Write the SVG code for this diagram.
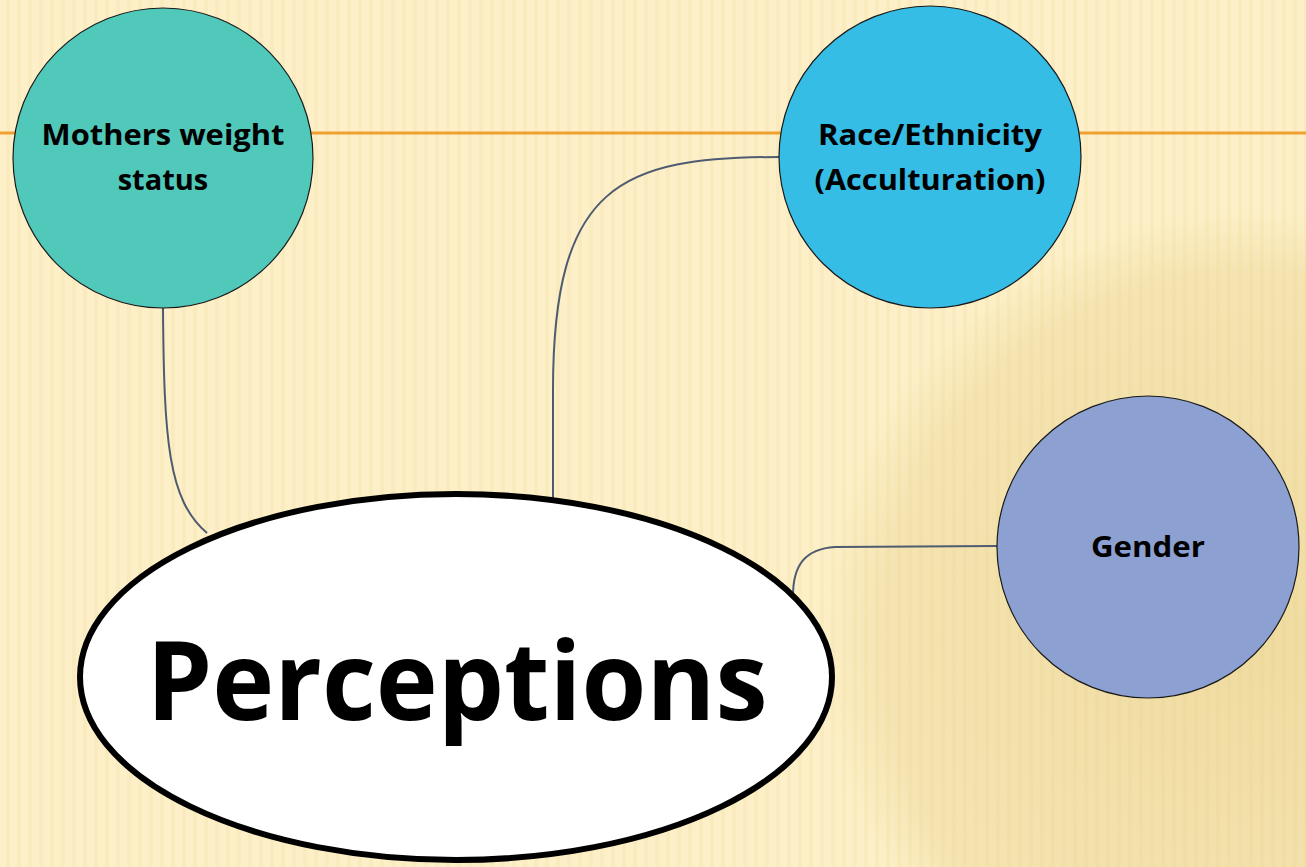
<svg xmlns="http://www.w3.org/2000/svg" width="1306" height="867" viewBox="0 0 1306 867">
  <defs>
    <pattern id="stripes" x="0" y="0" width="11" height="867" patternUnits="userSpaceOnUse">
      <rect x="0" y="0" width="11" height="867" fill="#FDF0C8"/>
      <rect x="6" y="0" width="4" height="867" fill="#F6E3AE" opacity="0.4"/>
    </pattern>
    <radialGradient id="shade" cx="1250" cy="640" r="430" gradientUnits="userSpaceOnUse">
      <stop offset="0" stop-color="#E2C77A" stop-opacity="0.5"/>
      <stop offset="0.85" stop-color="#E6CD86" stop-opacity="0.35"/>
      <stop offset="1" stop-color="#E6CD86" stop-opacity="0"/>
    </radialGradient>
    <style>
      .node { stroke: #1a1a1a; stroke-width: 1.2; }
      .lbl { font-family: "Open Sans", "Liberation Sans", sans-serif; font-weight: bold; fill: #000; text-anchor: middle; }
      .conn { fill: none; stroke: #4F5B70; stroke-width: 2; }
    </style>
  </defs>

  <rect x="0" y="0" width="1306" height="867" fill="url(#stripes)"/>
  <rect x="0" y="0" width="1306" height="867" fill="url(#shade)"/>
  <line x1="0" y1="133" x2="1306" y2="133" stroke="#F0A030" stroke-width="3"/>

  <g id="connectors">
    <path class="conn" d="M163,308 C164,440 168,500 207,533"/>
    <path class="conn" d="M780,157 C620,157 553,185 553,390 L553,508"/>
    <path class="conn" d="M997,546 L835,547 C805,549 793,565 793,596"/>
  </g>

  <g id="node-mothers">
    <circle class="node" cx="163" cy="158" r="150" fill="#50C8BA"/>
    <text class="lbl" x="163" y="145" font-size="29" textLength="243" lengthAdjust="spacingAndGlyphs">Mothers weight</text>
    <text class="lbl" x="163" y="190" font-size="29">status</text>
  </g>

  <g id="node-race">
    <circle class="node" cx="930" cy="157" r="151" fill="#35BDE6"/>
    <text class="lbl" x="930" y="145" font-size="29" textLength="224" lengthAdjust="spacingAndGlyphs">Race/Ethnicity</text>
    <text class="lbl" x="930" y="190" font-size="29" textLength="231" lengthAdjust="spacingAndGlyphs">(Acculturation)</text>
  </g>

  <g id="node-gender">
    <circle class="node" cx="1148" cy="547" r="151" fill="#8CA1D1"/>
    <text class="lbl" x="1148" y="557" font-size="29" textLength="114" lengthAdjust="spacingAndGlyphs">Gender</text>
  </g>

  <g id="node-perceptions">
    <ellipse cx="456" cy="677" rx="376" ry="183" fill="#FFFFFF" stroke="#000" stroke-width="6"/>
    <text class="lbl" x="457" y="720" font-size="110" textLength="621" lengthAdjust="spacingAndGlyphs">Perceptions</text>
  </g>
</svg>
